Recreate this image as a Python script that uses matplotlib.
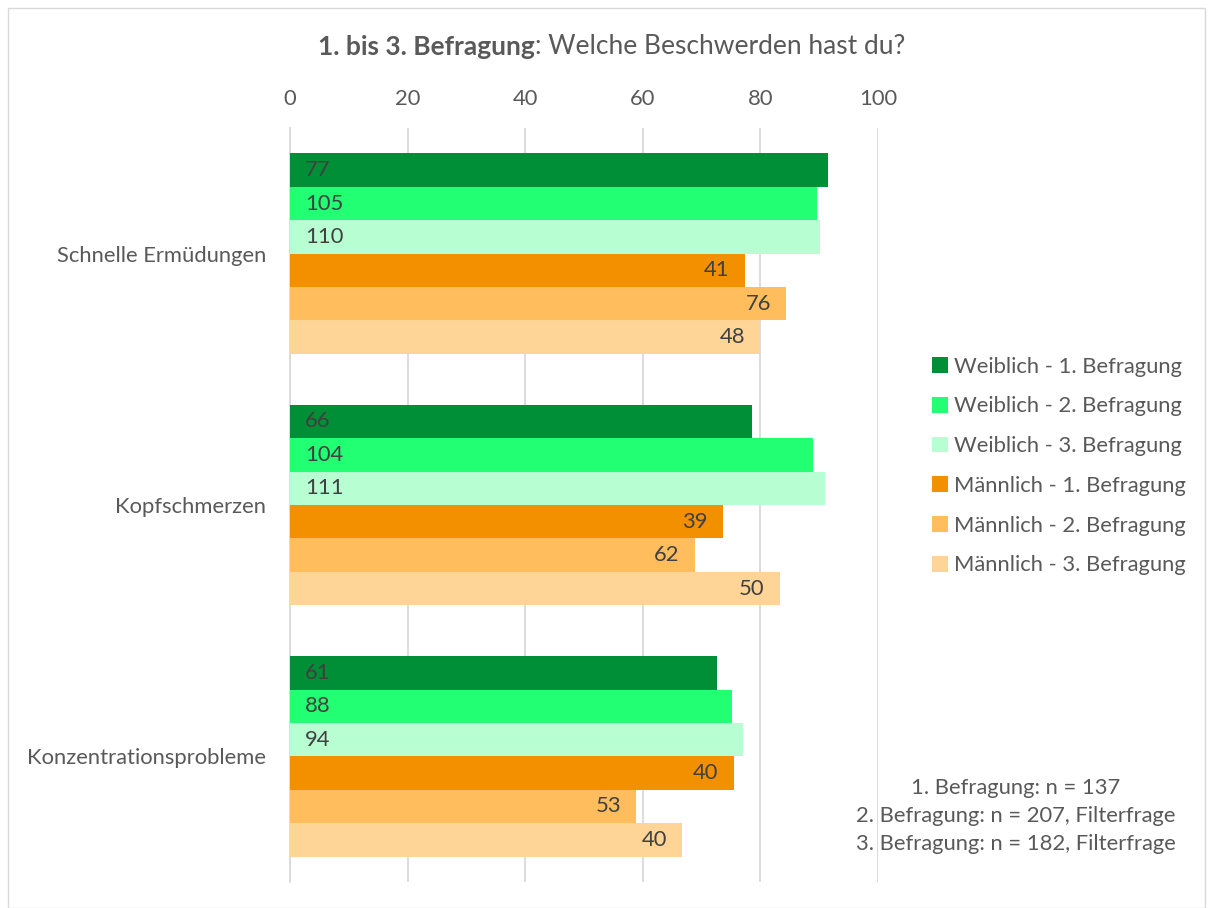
import numpy as np
import matplotlib.pyplot as plt
from matplotlib.patches import Rectangle

plt.rcParams['font.family'] = ['Lato', 'DejaVu Sans']

# Beschwerden (categories, top to bottom)
categories = ['Schnelle Ermüdungen', 'Kopfschmerzen', 'Konzentrationsprobleme']
series = ['Weiblich - 1. Befragung', 'Weiblich - 2. Befragung', 'Weiblich - 3. Befragung',
          'Männlich - 1. Befragung', 'Männlich - 2. Befragung', 'Männlich - 3. Befragung']
colors = ['#008E36', '#22FF73', '#B7FFD2', '#F39000', '#FFBD5E', '#FFD497']

# bar lengths in percent
pct_w1 = [91.5, 78.6, 72.6]
pct_w2 = [89.7, 88.9, 75.2]
pct_w3 = [90.2, 91.0, 77.0]
pct_m1 = [77.4, 73.6, 75.5]
pct_m2 = [84.4, 68.9, 58.9]
pct_m3 = [80.0, 83.3, 66.7]

# data labels = counts
cnt_w1 = [77, 66, 61]
cnt_w2 = [105, 104, 88]
cnt_w3 = [110, 111, 94]
cnt_m1 = [41, 39, 40]
cnt_m2 = [76, 62, 53]
cnt_m3 = [48, 50, 40]

pcts = [pct_w1, pct_w2, pct_w3, pct_m1, pct_m2, pct_m3]
counts = [cnt_w1, cnt_w2, cnt_w3, cnt_m1, cnt_m2, cnt_m3]

grey = '#595959'
lblcol = '#404040'
fs = 15.8

fig = plt.figure(figsize=(12.13, 9.08), dpi=100)
ax = fig.add_axes([290/1213, 1-882/908, (878-290)/1213, (882-128)/908])

y = np.arange(len(categories))
h = 33.5/252
for i in range(len(series)):
    pos = y + (i - 2.5)*h
    bars = ax.barh(pos, pcts[i], height=h, color=colors[i], label=series[i], zorder=3)
    for j, b in enumerate(bars):
        if i < 3:
            ax.annotate(str(counts[i][j]), (0, pos[j]), xytext=(11, 0), textcoords='offset points',
                        ha='left', va='center', fontsize=fs, color=lblcol, zorder=4)
        else:
            ax.annotate(str(counts[i][j]), (pcts[i][j], pos[j]), xytext=(-11, 0), textcoords='offset points',
                        ha='right', va='center', fontsize=fs, color=lblcol, zorder=4)

ax.set_xlim(0, 100)
ax.set_ylim(2.5, -0.5)
ax.set_xticks(range(0, 101, 20))
ax.xaxis.tick_top()
ax.tick_params(axis='x', length=0, pad=14, labelsize=fs, labelcolor=grey)
ax.set_yticks(y)
ax.set_yticklabels(categories)
ax.tick_params(axis='y', length=0, pad=17, labelsize=fs, labelcolor=grey)
ax.grid(axis='x', color='#D9D9D9', linewidth=1.3, zorder=0)
for s in ['top', 'right', 'bottom']:
    ax.spines[s].set_visible(False)
ax.spines['left'].set_color('#D9D9D9')
ax.spines['left'].set_linewidth(1.3)

leg = fig.legend(loc='center left', bbox_to_anchor=(921/1213, 1-466/908), frameon=False,
                 fontsize=fs, labelcolor=grey, handlelength=0.72, handleheight=0.72,
                 handletextpad=0.3, labelspacing=0.9, borderpad=0)

fig.text(1016/1213, 1-816/908,
         '1. Befragung: n = 137\n2. Befragung: n = 207, Filterfrage\n3. Befragung: n = 182, Filterfrage',
         ha='center', va='center', fontsize=fs, color=grey, linespacing=1.5)

# title: bold part + regular part
t1 = fig.text(0.5, 1-47/908, '1. bis 3. Befragung', fontsize=19, fontweight='bold', color=grey,
              ha='left', va='center')
t2 = fig.text(0.5, 1-47/908, ': Welche Beschwerden hast du?', fontsize=19, color=grey,
              ha='left', va='center')
fig.canvas.draw()
r = fig.canvas.get_renderer()
w1 = t1.get_window_extent(r).width
w2 = t2.get_window_extent(r).width
x0 = 612 - (w1 + w2)/2
t1.set_x(x0/1213)
t2.set_x((x0 + w1)/1213)

fig.patches.append(Rectangle((8/1213, 0), 1 - 16/1213, 1 - 8/908, transform=fig.transFigure,
                             fill=False, edgecolor='#D9D9D9', linewidth=1))

fig.savefig('out.png', dpi=100)
